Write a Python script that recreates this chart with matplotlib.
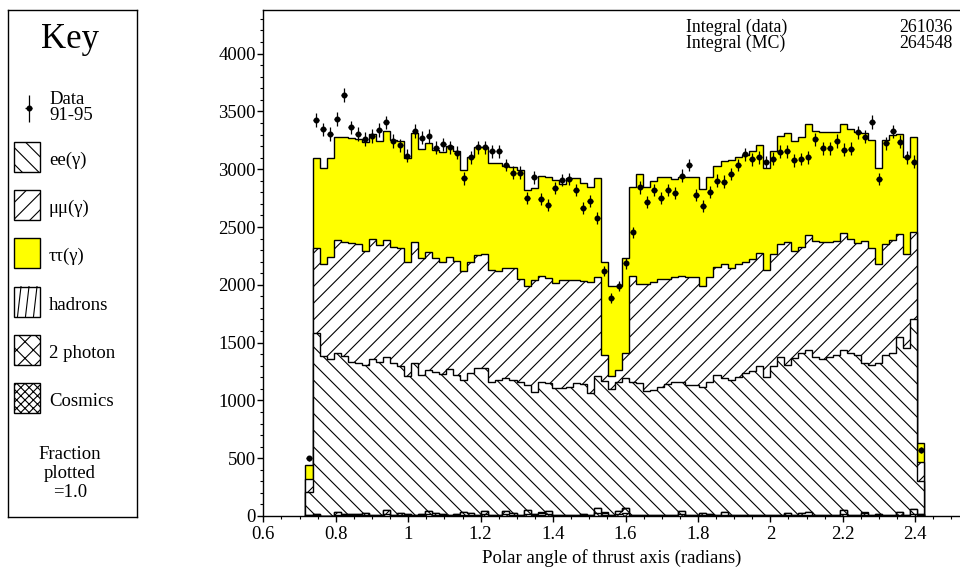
import numpy as np
import matplotlib
matplotlib.use('Agg')
import matplotlib.pyplot as plt
from matplotlib.patches import Rectangle
from matplotlib.ticker import MultipleLocator, FuncFormatter

plt.rcParams['font.family'] = ['Liberation Serif', 'DejaVu Serif']
plt.rcParams['hatch.linewidth'] = 0.8

# ---------------- data (88 bins in polar angle) ----------------
bin_lo, bin_hi, n_bins = 0.7165, 2.4255, 88

# cumulative MC levels
mc_total = [441, 3100, 3008, 3100, 3281, 3275, 3268, 3260, 3235, 3304,
            3244, 3333, 3252, 3244, 3094, 3310, 3175, 3224, 3166, 3146,
            3203, 3160, 2993, 3103, 3195, 3195, 3051, 3051, 3028, 3016,
            2993, 2820, 2835, 2941, 2936, 2907, 2872, 2921, 2921, 2878,
            2849, 2921, 2200, 1990, 1990, 2235, 2843, 2958, 2843, 2901,
            2936, 2930, 2915, 2936, 2936, 2930, 2829, 2930, 3028, 3074,
            3080, 3103, 3123, 3157, 3209, 3008, 3157, 3287, 3310, 3244,
            3275, 3388, 3333, 3325, 3319, 3325, 3388, 3345, 3325, 3316,
            3252, 3008, 3252, 3296, 3304, 3103, 3275, 634]
mc_ee_mumu = [317, 2321, 2177, 2238, 2388, 2367, 2359, 2350, 2296, 2393,
              2344, 2388, 2324, 2315, 2194, 2367, 2229, 2287, 2229, 2200,
              2238, 2209, 2119, 2194, 2258, 2264, 2128, 2122, 2142, 2148,
              2050, 1990, 2042, 2076, 2056, 2018, 2042, 2042, 2042, 2033,
              2027, 2070, 1393, 1214, 1263, 1413, 2076, 2007, 2007, 2027,
              2047, 2047, 2070, 2076, 2065, 2065, 1990, 2070, 2157, 2177,
              2148, 2177, 2200, 2220, 2278, 2128, 2264, 2350, 2367, 2292,
              2330, 2431, 2382, 2373, 2373, 2379, 2445, 2393, 2364, 2379,
              2315, 2180, 2350, 2388, 2437, 2267, 2460, 464]
mc_ee = [210, 1580, 1384, 1355, 1413, 1384, 1335, 1320, 1306, 1355,
         1335, 1372, 1320, 1300, 1214, 1326, 1220, 1263, 1249, 1228,
         1269, 1220, 1176, 1234, 1278, 1278, 1156, 1176, 1191, 1176,
         1162, 1133, 1070, 1162, 1147, 1104, 1110, 1119, 1153, 1139,
         1061, 1214, 1168, 1095, 1162, 1191, 1162, 1147, 1084, 1090,
         1113, 1139, 1159, 1159, 1133, 1133, 1119, 1162, 1220, 1191,
         1176, 1205, 1234, 1257, 1300, 1205, 1300, 1372, 1306, 1364,
         1407, 1436, 1372, 1355, 1372, 1393, 1436, 1407, 1393, 1326,
         1306, 1326, 1393, 1407, 1551, 1450, 1701, 305]
hadrons = [1, 2, 1, 1, 2, 1, 2, 1, 1, 2, 1, 2, 1, 1, 2, 1, 1, 2, 1, 1, 2, 1,
           1, 2, 1, 1, 2, 1, 1, 2, 1, 1, 2, 1, 1, 2, 1, 1, 2, 1, 1, 2, 1, 1,
           2, 1, 1, 2, 1, 1, 2, 1, 1, 2, 1, 1, 2, 1, 1, 2, 1, 1, 2, 1, 1, 2,
           1, 1, 2, 1, 1, 2, 1, 1, 2, 1, 1, 2, 1, 1, 2, 1, 1, 2, 1, 1, 2, 1]
twophoton = [3, 10, 2, 2, 23, 13, 10, 10, 17, 3, 3, 33, 3, 17, 10, 7, 13, 27,
             17, 10, 7, 10, 23, 17, 7, 30, 7, 3, 30, 17, 3, 33, 10, 20, 30, 7,
             3, 3, 7, 10, 3, 47, 20, 3, 30, 47, 3, 3, 3, 3, 3, 3, 3, 29, 3, 3,
             15, 10, 3, 23, 3, 3, 3, 3, 3, 3, 3, 3, 15, 3, 15, 23, 3, 3, 3, 3,
             33, 3, 3, 20, 3, 10, 3, 3, 23, 3, 40, 13]
cosmics = [2, 5, 1, 1, 12, 7, 5, 5, 8, 2, 2, 17, 2, 8, 5, 3, 7, 13, 8, 5, 3,
           5, 12, 8, 3, 15, 3, 2, 15, 8, 2, 17, 5, 10, 15, 3, 2, 2, 3, 5, 2,
           23, 10, 2, 15, 23, 2, 2, 2, 2, 2, 2, 2, 14, 2, 2, 8, 5, 2, 12, 2,
           2, 2, 2, 2, 2, 2, 2, 8, 2, 8, 12, 2, 2, 2, 2, 17, 2, 2, 10, 2, 5,
           2, 2, 12, 2, 20, 7]
data_91_95 = [499, 3426, 3345, 3305, 3434, 3642, 3362, 3305, 3261, 3287,
              3339, 3405, 3244, 3206, 3117, 3330, 3272, 3287, 3186, 3215,
              3189, 3143, 2921, 3105, 3189, 3189, 3157, 3157, 3036, 2970,
              2970, 2748, 2929, 2742, 2688, 2835, 2907, 2913, 2820, 2662,
              2728, 2581, 2119, 1889, 1990, 2186, 2454, 2843, 2716, 2820,
              2754, 2820, 2797, 2944, 3036, 2777, 2682, 2806, 2901, 2893,
              2957, 3036, 3131, 3085, 3103, 3062, 3091, 3149, 3155, 3077,
              3088, 3103, 3258, 3183, 3183, 3244, 3169, 3178, 3319, 3281,
              3408, 2913, 3224, 3327, 3238, 3103, 3065, 571]

integral_data = "261036"
integral_mc = "264548"

# ---------------- derived stacks ----------------
edges = np.linspace(bin_lo, bin_hi, n_bins + 1)
centers = 0.5 * (edges[:-1] + edges[1:])
cos_ = np.array(cosmics, float)
tp_ = np.array(twophoton, float)
had_ = np.array(hadrons, float)
low = cos_ + tp_ + had_
ee = np.array(mc_ee, float) - low
mumu = np.array(mc_ee_mumu, float) - np.array(mc_ee, float)
tautau = np.array(mc_total, float) - np.array(mc_ee_mumu, float)
comps = [cos_, tp_, had_, ee, mumu, tautau]          # bottom -> top
cum = np.cumsum(comps, axis=0)
styles = [('white', 'xxxx'), ('white', 'xx'), ('white', None),
          ('white', '\\\\'), ('white', '//'), ('#ffff00', None)]

FS = 13.5
FS_INT = 12.8
W, H = 960, 573
fig = plt.figure(figsize=(W / 100, H / 100), dpi=100)

ax_left, ax_right, ax_top, ax_bot = 263.3, 960, 10, 516
ax = fig.add_axes([ax_left / W, 1 - ax_bot / H, (ax_right - ax_left) / W,
                   (ax_bot - ax_top) / H])
for i in range(5, -1, -1):
    fc, h = styles[i]
    ax.stairs(cum[i], edges, baseline=0, fill=True, facecolor=fc,
              edgecolor='black', hatch=h, linewidth=1.0, zorder=2 + (5 - i) * 0.1)

d = np.array(data_91_95, float)
ax.errorbar(centers, d, yerr=np.sqrt(d), xerr=0.008, fmt='o', ms=3.3,
            color='black', ecolor='black', elinewidth=0.9, capsize=0, zorder=5)

ax.set_xlim(0.6, 0.6 + (ax_right - ax_left) / 362.2)
ax.set_ylim(0, (ax_bot - ax_top) / 0.1156)
ax.xaxis.set_major_locator(MultipleLocator(0.2))
ax.xaxis.set_minor_locator(MultipleLocator(0.05))
ax.yaxis.set_major_locator(MultipleLocator(500))
ax.yaxis.set_minor_locator(MultipleLocator(100))
fmt = FuncFormatter(lambda v, p: '%g' % round(v, 3))
ax.xaxis.set_major_formatter(fmt)
ax.yaxis.set_major_formatter(fmt)
ax.tick_params(which='major', direction='out', length=4, width=1, labelsize=FS)
ax.tick_params(axis='x', which='major', pad=3.5)
ax.tick_params(axis='y', which='major', pad=1.5)
ax.tick_params(which='minor', direction='out', length=2.5, width=0.8)
ax.spines['right'].set_visible(False)
for s in ('left', 'top', 'bottom'):
    ax.spines[s].set_linewidth(1.0)
ax.set_xlabel('Polar angle of thrust axis (radians)', fontsize=FS, labelpad=4)

fig.text(685.7 / W, 1 - 31.7 / H, 'Integral (data)', ha='left', va='baseline', fontsize=FS_INT)
fig.text(952.7 / W, 1 - 31.7 / H, integral_data, ha='right', va='baseline', fontsize=FS_INT)
fig.text(685.7 / W, 1 - 48.2 / H, 'Integral (MC)', ha='left', va='baseline', fontsize=FS_INT)
fig.text(952.7 / W, 1 - 48.2 / H, integral_mc, ha='right', va='baseline', fontsize=FS_INT)

# ---------------- key panel ----------------
kx0, ky0, kx1, ky1 = 8, 10, 137, 517
ka = fig.add_axes([kx0 / W, 1 - ky1 / H, (kx1 - kx0) / W, (ky1 - ky0) / H])
ka.set_xlim(0, kx1 - kx0)
ka.set_ylim(ky1 - ky0, 0)
ka.set_xticks([]); ka.set_yticks([])
for s in ka.spines.values():
    s.set_linewidth(1.0)

ka.text(62, 38, 'Key', ha='center', va='baseline', fontsize=25)
ka.errorbar([20.5], [98], yerr=[13.5], xerr=[3.5], fmt='o', ms=3.3, color='black',
            elinewidth=0.9, capsize=0)
ka.text(41, 93.5, 'Data', ha='left', va='baseline', fontsize=FS)
ka.text(41, 110.5, '91-95', ha='left', va='baseline', fontsize=FS)

key_items = [('ee(γ)', 'white', '\\\\'), ('μμ(γ)', 'white', '//'),
             ('ττ(γ)', '#ffff00', None), ('hadrons', 'white', None),
             ('2 photon', 'white', 'xx'), ('Cosmics', 'white', 'xxxx')]
for j, (lab, fc, h) in enumerate(key_items):
    top = 131.7 + 48.3 * j
    ka.add_patch(Rectangle((6, top), 26, 30, facecolor=fc, edgecolor='black',
                           hatch=h, linewidth=1.0))
    if lab == 'hadrons':
        for xs in (9.5, 17.5, 25.5):
            ka.plot([xs, xs + 3.5], [top + 30, top], color='black', lw=0.8)
    ka.text(41, top + 23, lab, ha='left', va='baseline', fontsize=FS)

ka.text(62, 449, 'Fraction', ha='center', va='baseline', fontsize=FS)
ka.text(62, 468, 'plotted', ha='center', va='baseline', fontsize=FS)
ka.text(62, 487, '=1.0', ha='center', va='baseline', fontsize=FS)

fig.savefig('out.png', dpi=100)
